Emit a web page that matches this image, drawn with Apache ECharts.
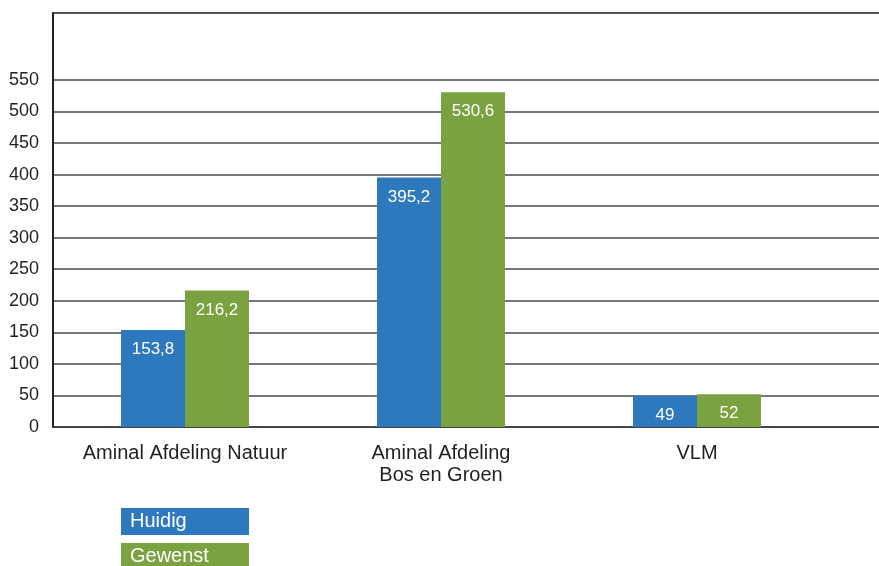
<!DOCTYPE html>
<html>
<head>
<meta charset="utf-8">
<script src="https://cdn.jsdelivr.net/npm/echarts@6/dist/echarts.min.js"></script>
<style>
html,body{margin:0;padding:0;background:#fff;}
#c{width:879px;height:566px;}
</style>
</head>
<body>
<div id="c"></div>
<script>
const categories = ['Aminal Afdeling Natuur', 'Aminal Afdeling\nBos en Groen', 'VLM'];
const huidig = [153.8, 395.2, 49];
const gewenst = [216.2, 530.6, 52];
const seriesNames = ['Huidig', 'Gewenst'];
const yMax = 656;
const yLabelMax = 550;
const blue = '#2e78bd';
const green = '#7aa241';

const chart = echarts.init(document.getElementById('c'), null, {renderer: 'canvas'});
const fmt = p => String(p.value).replace('.', ',');

// split line colours: visible up to 550, hidden above, dark frame line at the top
const lineColors = [];
for (let v = 0; v <= 650; v += 50) lineColors.push(v <= yLabelMax ? '#4a4a4a' : 'rgba(0,0,0,0)');
lineColors.push('#1e1e1e');

chart.setOption({
  animation: false,
  backgroundColor: '#fff',
  textStyle: {fontFamily: 'Liberation Sans, Arial, sans-serif'},
  grid: [
    {left: 53, right: -3, top: 13, bottom: 139, show: false, containLabel: false},
    {left: 57, right: 54, top: 13, bottom: 139, containLabel: false}
  ],
  xAxis: [
    {gridIndex: 0, type: 'value', min: 0, max: 1, axisLine: {show: true, onZero: false, lineStyle: {color: '#333', width: 1.5}}, axisTick: {show: false}, axisLabel: {show: false}, splitLine: {show: false}},
    {gridIndex: 1, type: 'category', data: categories, axisLine: {show: false}, axisTick: {show: false},
     axisLabel: {color: '#231f20', fontSize: 20, lineHeight: 22, margin: 15, interval: 0}}
  ],
  yAxis: [
    {gridIndex: 0, type: 'value', min: 0, max: yMax, interval: 50,
     axisLine: {show: true, lineStyle: {color: '#222', width: 2}}, axisTick: {show: false},
     axisLabel: {color: '#231f20', fontSize: 18, margin: 14, formatter: v => (v <= yLabelMax && v % 50 === 0) ? String(v) : ''},
     splitLine: {show: true, showMaxLine: true, lineStyle: {color: lineColors, width: 1.7}}},
    {gridIndex: 1, type: 'value', min: 0, max: yMax, show: false, splitLine: {show: false}}
  ],
  legend: {
    orient: 'vertical', left: 116, top: 508, height: 120, padding: 0, itemGap: 8,
    itemWidth: 0, itemHeight: 0, icon: 'rect', selectedMode: false,
    data: [
      {name: seriesNames[0], textStyle: {backgroundColor: blue}},
      {name: seriesNames[1], textStyle: {backgroundColor: green}}
    ],
    textStyle: {color: '#fff', fontSize: 20, width: 119, lineHeight: 23, padding: [2, 0, 2, 9], fontFamily: 'Liberation Sans, Arial, sans-serif'}
  },
  series: [
    {name: seriesNames[0], type: 'bar', xAxisIndex: 1, yAxisIndex: 1, data: huidig, barWidth: 64, barGap: '0%',
     itemStyle: {color: blue},
     label: {show: true, position: 'insideTop', distance: 11, color: '#fff', fontSize: 17, formatter: fmt}},
    {name: seriesNames[1], type: 'bar', xAxisIndex: 1, yAxisIndex: 1, data: gewenst, barWidth: 64, barGap: '0%',
     itemStyle: {color: green},
     label: {show: true, position: 'insideTop', distance: 11, color: '#fff', fontSize: 17, formatter: fmt}}
  ]
});
</script>
</body>
</html>
